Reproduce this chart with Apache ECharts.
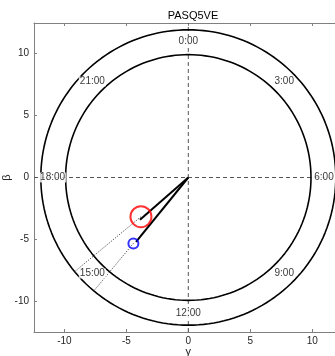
<!DOCTYPE html>
<html>
<head>
<meta charset="utf-8">
<script src="https://cdn.jsdelivr.net/npm/echarts@6/dist/echarts.min.js"></script>
<style>
html,body{margin:0;padding:0;background:#fff;}
#chart{width:335px;height:356px;}
</style>
</head>
<body>
<div id="chart"></div>
<script>
// ---- data ----
const titleText = 'PASQ5VE';
const axisRange = [-12.45, 12.45];
const tickValues = [-10, -5, 0, 5, 10];
const ringRadii = [9.9, 11.9];
const hourLabels = ['0:00', '3:00', '6:00', '9:00', '12:00', '15:00', '18:00', '21:00'];
const hourLabelRadius = 10.95;
const blackLineEnds = [[-3.9, -3.4], [-4.22, -5.18]];
const redCenter = [-3.82, -3.16];
const blueCenter = [-4.43, -5.31];
const dottedEndRadius = 11.9;

// ---- build ----
function ringPoints(r) {
  const pts = [];
  for (let a = 0; a <= 360; a += 2) {
    const t = a * Math.PI / 180;
    pts.push([r * Math.sin(t), r * Math.cos(t)]);
  }
  return pts;
}
function rayTo(p, R) {
  const len = Math.hypot(p[0], p[1]);
  return [p[0] / len * R, p[1] / len * R];
}
const labelData = hourLabels.map((txt, i) => {
  const t = i * (360 / hourLabels.length) * Math.PI / 180;
  return { value: [hourLabelRadius * Math.sin(t), hourLabelRadius * Math.cos(t)], name: txt };
});

const FONT = 'Liberation Sans, Arial, sans-serif';
const series = [];
// dashed cross lines
series.push({
  type: 'line', xAxisIndex: 0, yAxisIndex: 0, data: [[axisRange[0], 0], [axisRange[1], 0]],
  showSymbol: false, silent: true, z: 1,
  lineStyle: { color: '#555', width: 1, type: [4, 3] }
});
series.push({
  type: 'line', xAxisIndex: 0, yAxisIndex: 0, data: [[0, axisRange[0]], [0, axisRange[1]]],
  showSymbol: false, silent: true, z: 1,
  lineStyle: { color: '#555', width: 1, type: [4, 3] }
});
// rings
ringRadii.forEach(r => {
  series.push({
    type: 'line', xAxisIndex: 0, yAxisIndex: 0, data: ringPoints(r),
    showSymbol: false, silent: true, z: 2,
    lineStyle: { color: '#000', width: 1.6 }
  });
});
// dotted extensions
[redCenter, blueCenter].forEach(c => {
  series.push({
    type: 'line', xAxisIndex: 0, yAxisIndex: 0, data: [c, rayTo(c, dottedEndRadius)],
    showSymbol: false, silent: true, z: 3,
    lineStyle: { color: '#333', width: 1, type: [1, 1.5] }
  });
});
// black vectors
blackLineEnds.forEach(e => {
  series.push({
    type: 'line', xAxisIndex: 0, yAxisIndex: 0, data: [[0, 0], e],
    showSymbol: false, silent: true, z: 4,
    lineStyle: { color: '#000', width: 2 }
  });
});
// circles
series.push({
  type: 'scatter', xAxisIndex: 0, yAxisIndex: 0, data: [redCenter], symbol: 'circle', symbolSize: 21, z: 5, silent: true,
  itemStyle: { color: 'rgba(0,0,0,0)', borderColor: '#ff0000', borderWidth: 2 }
});
series.push({
  type: 'scatter', xAxisIndex: 0, yAxisIndex: 0, data: [blueCenter], symbol: 'circle', symbolSize: 10, z: 5, silent: true,
  itemStyle: { color: 'rgba(0,0,0,0)', borderColor: '#0000ff', borderWidth: 2 }
});
// hour labels
series.push({
  type: 'scatter', xAxisIndex: 0, yAxisIndex: 0, data: labelData, symbolSize: 0, z: 6, silent: true,
  label: {
    show: true, position: 'inside', formatter: p => p.name,
    fontFamily: FONT, fontSize: 10, color: '#000',
    backgroundColor: '#fff', padding: [0, 1, 0, 1]
  }
});

const axisCommon = {
  type: 'value', min: axisRange[0], max: axisRange[1],
  splitLine: { show: false },
  axisLine: { show: true, onZero: false, lineStyle: { color: '#808080', width: 1 } }
};
const option = {
  animation: false,
  backgroundColor: '#fff',
  title: {
    text: titleText, left: 188, top: 5, textAlign: 'center',
    textStyle: { fontFamily: FONT, fontSize: 11, fontWeight: 'normal', color: '#000' }
  },
  grid: { left: 34, top: 23, width: 308.6, height: 309, containLabel: false, outerBoundsMode: 'none' },
  xAxis: [
    Object.assign({}, axisCommon, {
      position: 'bottom', name: 'γ', nameLocation: 'middle', nameGap: 14, nameMoveOverlap: false,
      nameTextStyle: { fontFamily: FONT, fontSize: 11, color: '#262626' },
      axisTick: { show: true, inside: true, length: 3, customValues: tickValues, lineStyle: { color: '#808080' } },
      axisLabel: { show: true, customValues: tickValues, margin: 4, fontFamily: FONT, fontSize: 10, color: '#262626' }
    }),
    Object.assign({}, axisCommon, {
      position: 'top',
      axisTick: { show: true, inside: true, length: 3, customValues: tickValues, lineStyle: { color: '#808080' } },
      axisLabel: { show: false }
    })
  ],
  yAxis: [
    Object.assign({}, axisCommon, {
      position: 'left', name: 'β', nameLocation: 'middle', nameGap: 22, nameMoveOverlap: false,
      nameTextStyle: { fontFamily: FONT, fontSize: 11, color: '#262626' },
      axisTick: { show: true, inside: true, length: 3, customValues: tickValues, lineStyle: { color: '#808080' } },
      axisLabel: { show: true, customValues: tickValues, margin: 5, fontFamily: FONT, fontSize: 10, color: '#262626' }
    }),
    Object.assign({}, axisCommon, {
      position: 'right',
      axisTick: { show: true, inside: true, length: 3, customValues: tickValues, lineStyle: { color: '#808080' } },
      axisLabel: { show: false }
    })
  ],
  series: series
};
const chart = echarts.init(document.getElementById('chart'), null, { renderer: 'canvas' });
chart.setOption(option);
</script>
</body>
</html>
